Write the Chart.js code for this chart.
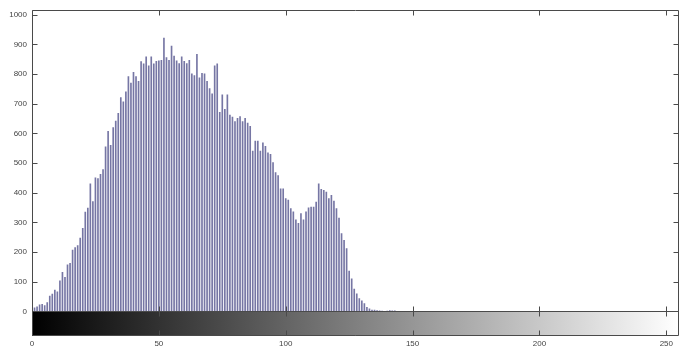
<!DOCTYPE html>
<html>
<head>
<meta charset="utf-8">
<script src="https://cdn.jsdelivr.net/npm/chart.js@4/dist/chart.umd.min.js"></script>
<style>
html,body{margin:0;padding:0;background:#fff;}
#wrap{width:689px;height:351px;position:relative;}
</style>
</head>
<body>
<div id="wrap"><canvas id="c" width="689" height="351"></canvas></div>
<script>
// Gray levels 0..255 (categories)
const grayLevels = Array.from({length: 256}, (_, i) => i);
// Pixel counts per gray level
const counts = [
  7, 12, 15, 22, 24, 20, 30, 52, 58, 72,
  66,103,132,115,157,162,207,215,222,247,
  280,335,348,430,370,450,448,462,478,555,
  607,560,620,642,668,721,707,740,792,770,
  806,792,776,842,835,858,828,858,835,843,
  845,847,922,856,847,895,861,845,836,858,
  843,836,847,801,795,867,788,803,801,776,
  751,734,828,835,671,730,681,730,662,655,
  640,651,657,640,651,635,624,541,574,574,
  541,568,557,535,530,502,468,458,413,413,
  380,375,347,336,309,297,330,309,336,349,
  352,352,369,430,412,408,402,380,391,372,
  347,315,262,240,212,136,110, 75, 59, 43,
  36, 26, 14,  9,  4,  4,  3,  2,  1,  0,
  1,  3,  2,  2,  0,  0,  0,  0,  0,  0,
  0,0,0,0,0,0,0,0,0,0,
  0,0,0,0,0,0,0,0,0,0,
  0,0,0,0,0,0,0,0,0,0,
  0,0,0,0,0,0,0,0,0,0,
  0,0,0,0,0,0,0,0,0,0,
  0,0,0,0,0,0,0,0,0,0,
  0,0,0,0,0,0,0,0,0,0,
  0,0,0,0,0,0,0,0,0,0,
  0,0,0,0,0,0,0,0,0,0,
  0,0,0,0,0,0,0,0,0,0,
  0,0,0,0,0,0
];
const xTicks = [0, 50, 100, 150, 200, 250];
const yTicks = [0, 100, 200, 300, 400, 500, 600, 700, 800, 900, 1000];
const xRange = [0, 255];
const yRange = [-83, 1017];   // negative part holds the gray colorbar

const frame = {
  id: 'frame',
  beforeDatasetsDraw(chart) {
    const {ctx, chartArea: a, scales: {x, y}} = chart;
    const x0 = x.getPixelForValue(xRange[0]);
    const x1 = x.getPixelForValue(xRange[1]);
    const y0 = y.getPixelForValue(0);
    const g = ctx.createLinearGradient(x0, 0, x1, 0);
    g.addColorStop(0, '#000000');
    g.addColorStop(1, '#ffffff');
    ctx.save();
    ctx.fillStyle = g;
    ctx.fillRect(x0, y0, x1 - x0, a.bottom - y0);
    ctx.restore();
  },
  afterDatasetsDraw(chart) {
    const {ctx, chartArea: a, scales: {x, y}} = chart;
    const y0 = Math.round(y.getPixelForValue(0)) + 0.5;
    const L = Math.round(a.left) + 0.5, R = Math.round(a.right) - 0.5;
    const T = Math.round(a.top) + 0.5, B = Math.round(a.bottom) - 0.5;
    ctx.save();
    ctx.strokeStyle = '#4a4a4a';
    ctx.lineWidth = 1;
    ctx.beginPath();
    ctx.rect(L, T, R - L, y0 - T);
    ctx.rect(L, y0, R - L, B - y0);
    yTicks.forEach(v => {
      const p = Math.round(y.getPixelForValue(v)) + 0.5;
      ctx.moveTo(L, p); ctx.lineTo(L + 5, p);
      ctx.moveTo(R, p); ctx.lineTo(R - 5, p);
    });
    xTicks.forEach(v => {
      const p = Math.round(x.getPixelForValue(v)) + 0.5;
      ctx.moveTo(p, T); ctx.lineTo(p, T + 5);
      ctx.moveTo(p, y0 - 5); ctx.lineTo(p, y0 + 5);
      ctx.moveTo(p, B); ctx.lineTo(p, B - 5);
    });
    ctx.stroke();
    ctx.restore();
  }
};

new Chart(document.getElementById('c'), {
  type: 'bar',
  data: {
    datasets: [{
      data: grayLevels.map((g, i) => ({x: g, y: counts[i]})),
      backgroundColor: '#7676a4',
      borderWidth: 0,
      barThickness: 1,
      grouped: false
    }]
  },
  plugins: [frame],
  options: {
    responsive: false,
    animation: false,
    devicePixelRatio: 1,
    layout: {padding: {left: 0, right: 10, top: 5, bottom: 0}},
    plugins: {legend: {display: false}, tooltip: {enabled: false}, title: {display: false}},
    scales: {
      x: {
        type: 'linear',
        min: xRange[0], max: xRange[1],
        offset: false,
        grid: {display: false, drawTicks: false},
        border: {display: false},
        afterBuildTicks: s => { s.ticks = xTicks.map(v => ({value: v})); },
        afterFit: s => { s.height = 15; },
        ticks: {
          padding: 3, maxRotation: 0, autoSkip: false,
          callback: v => String(v),
          color: '#444', font: {family: 'Liberation Sans', size: 8}
        }
      },
      y: {
        min: yRange[0], max: yRange[1],
        grid: {display: false, drawTicks: false},
        border: {display: false},
        afterBuildTicks: s => { s.ticks = yTicks.map(v => ({value: v})); },
        afterFit: s => { s.width = 32; },
        ticks: {
          padding: 5, autoSkip: false,
          callback: v => String(v),
          color: '#444', font: {family: 'Liberation Sans', size: 8}
        }
      }
    }
  }
});
</script>
</body>
</html>
